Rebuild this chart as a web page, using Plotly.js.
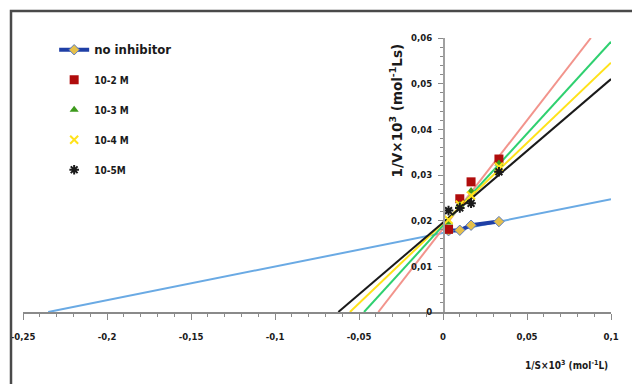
<!DOCTYPE html>
<html>
<head>
<meta charset="utf-8">
<script src="https://cdn.plot.ly/plotly-3.0.1.min.js"></script>
<style>html,body{margin:0;padding:0;background:#fff}#chart{width:632px;height:384px}</style>
</head>
<body>
<div id="chart"></div>
<script>
// ---- data ----
const invS = [0.0033, 0.01, 0.0167, 0.0333];
const noInhibitor = [0.0178, 0.0179, 0.0190, 0.0198];
const inh1e2 = [0.0181, 0.0248, 0.0285, 0.0335];
const inh1e3 = [0.0196, 0.0235, 0.0265, 0.0325];
const inh1e4 = [0.0202, 0.0235, 0.0255, 0.0318];
const inh1e5 = [0.0222, 0.0228, 0.0238, 0.0307];

// trendline end points
const fitNoInhX = [-0.235, 0.1],  fitNoInhY = [0, 0.0247];
const fit1e2X = [-0.0385, 0.088], fit1e2Y = [0, 0.06];
const fit1e3X = [-0.047, 0.1],    fit1e3Y = [0, 0.0592];
const fit1e4X = [-0.0554, 0.1],   fit1e4Y = [0, 0.0546];
const fit1e5X = [-0.0623, 0.1],   fit1e5Y = [0, 0.0510];

const seriesNames = ['<span style="font-size:13px"><b>no inhibitor</b></span>', '<b>10-2 M</b>', '<b>10-3 M</b>', '<b>10-4 M</b>', '<b>10-5M</b>'];

const xTickVals = [-0.25, -0.2, -0.15, -0.1, -0.05, 0, 0.05, 0.1];
const xTickText = ['-0,25', '-0,2', '-0,15', '-0,1', '-0,05', '0', '0,05', '0,1'];
const yTickVals = [0, 0.01, 0.02, 0.03, 0.04, 0.05, 0.06];
const yTickText = ['0', '0,01', '0,02', '0,03', '0,04', '0,05', '0,06'];

const FONT = '"Liberation Sans Narrow", "DejaVu Sans Condensed", "Arial Narrow", sans-serif';

function fit(x, y, color) {
  return {x: x, y: y, mode: 'lines', type: 'scatter', showlegend: false, hoverinfo: 'skip',
          line: {color: color, width: 2}};
}

const traces = [
  fit(fitNoInhX, fitNoInhY, '#6aaae4'),
  fit(fit1e2X, fit1e2Y, '#f2948c'),
  fit(fit1e3X, fit1e3Y, '#2fd070'),
  fit(fit1e4X, fit1e4Y, '#ffe21a'),
  fit(fit1e5X, fit1e5Y, '#1a1a1a'),
  {x: invS, y: noInhibitor, name: seriesNames[0], legendgroup: 'a', type: 'scatter', mode: 'lines+markers',
   line: {color: '#1f3fa6', width: 4},
   marker: {symbol: 'diamond', size: 8, color: '#e6c04a', line: {color: '#5b7bc0', width: 1}}},
  {x: invS, y: inh1e2, name: seriesNames[1], legendgroup: 'b', type: 'scatter', mode: 'markers',
   marker: {symbol: 'square', size: 9, color: '#b00c0c'}},
  {x: invS, y: inh1e3, name: seriesNames[2], legendgroup: 'c', type: 'scatter', mode: 'markers',
   marker: {symbol: 'triangle-up', size: 8, color: '#3d9a1c'}},
  {x: invS, y: inh1e4, name: seriesNames[3], legendgroup: 'd', type: 'scatter', mode: 'markers',
   marker: {symbol: 'x-thin-open', size: 8, color: '#ffe21a', line: {color: '#ffe21a', width: 2}}},
  {x: invS, y: inh1e5, name: seriesNames[4], legendgroup: 'e', type: 'scatter', mode: 'markers',
   marker: {symbol: 'asterisk-open', size: 8, color: '#1a1a1a', line: {color: '#1a1a1a', width: 2}}}
];

const layout = {
  width: 632, height: 384,
  margin: {l: 23, r: 21, t: 38, b: 72},
  paper_bgcolor: '#ffffff', plot_bgcolor: '#ffffff',
  font: {family: FONT, size: 10, color: '#1a1a1a'},
  showlegend: true,
  legend: {x: 0.053, y: 1.01, xanchor: 'left', yanchor: 'top', bgcolor: 'rgba(0,0,0,0)',
           tracegroupgap: 11, font: {family: FONT, size: 10, color: '#1a1a1a'}},
  xaxis: {range: [-0.25, 0.1], showgrid: false, zeroline: false, showline: true,
          linecolor: '#8a8a8a', linewidth: 1.5, ticks: 'outside', ticklen: 6, tickcolor: '#8a8a8a',
          tickmode: 'array', tickvals: xTickVals, ticktext: xTickText, ticklabelstandoff: 9,
          tickfont: {family: FONT, size: 9.5, color: '#1a1a1a', weight: 'bold'},
          minor: {tickmode: 'linear', tick0: 0, dtick: 0.01, ticklen: 3, tickcolor: '#8a8a8a', ticks: 'outside'}},
  yaxis: {range: [0, 0.06], showgrid: false, zeroline: false, showline: true, anchor: 'free', position: 0.7143,
          linecolor: '#a0a0a0', linewidth: 1.5, ticks: 'outside', ticklen: 5, tickcolor: '#8a8a8a',
          tickmode: 'array', tickvals: yTickVals, ticktext: yTickText, ticklabelstandoff: 4,
          tickfont: {family: FONT, size: 9.5, color: '#1a1a1a', weight: 'bold'},
          minor: {tickmode: 'linear', tick0: 0, dtick: 0.002, ticklen: 3, tickcolor: '#8a8a8a', ticks: 'outside'}},
  shapes: [{type: 'rect', xref: 'paper', yref: 'paper', x0: -0.0204, x1: 1.2, y0: -0.5, y1: 1.0985,
            line: {color: '#4a4a4a', width: 2.5}, fillcolor: 'rgba(0,0,0,0)', layer: 'above'}],
  annotations: [
    {xref: 'paper', yref: 'paper', x: 0.998, y: -0.193, xanchor: 'right', yanchor: 'middle', showarrow: false,
     text: '<b>1/S×10<sup>3</sup> (mol<sup>-1</sup>L)</b>', font: {family: FONT, size: 10, color: '#1a1a1a'}},
    {xref: 'paper', yref: 'paper', x: 0.635, y: 0.737, xanchor: 'center', yanchor: 'middle', showarrow: false, textangle: -90,
     text: '<b>1/V×10<sup>3</sup> (mol<sup>-1</sup>Ls)</b>', font: {family: '"DejaVu Sans", sans-serif', size: 13.5, color: '#1a1a1a'}}
  ]
};

Plotly.newPlot('chart', traces, layout, {displayModeBar: false, staticPlot: true});
</script>
</body>
</html>
